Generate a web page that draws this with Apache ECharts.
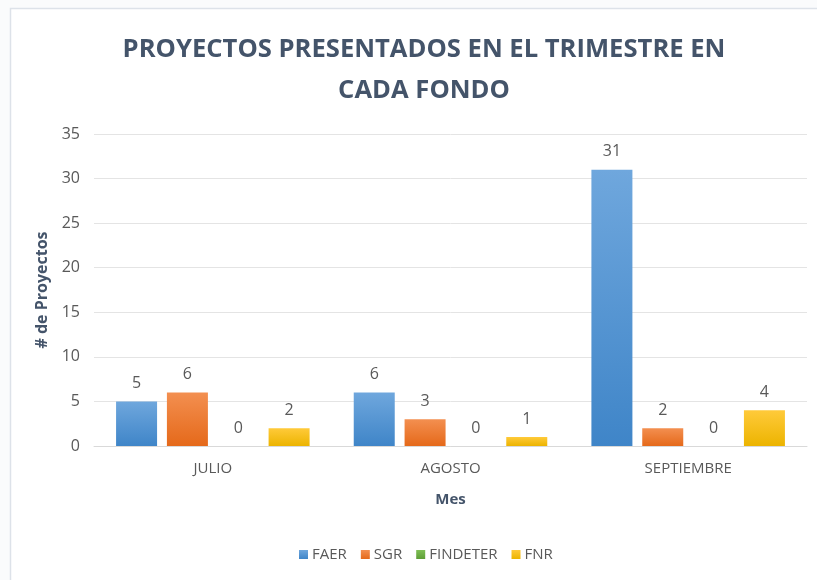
<!DOCTYPE html>
<html>
<head>
    <meta charset="UTF-8">
    <title>Proyectos presentados en el trimestre</title>
    <script src="https://cdn.jsdelivr.net/npm/echarts@6/dist/echarts.min.js"></script>
    <style>
        html, body { margin: 0; padding: 0; background: #fafbfc; }
    </style>
</head>
<body>
<div id="main" style="width: 817px;height:580px;"></div>
<script type="text/javascript">
    // datos del grafico
    const meses = ['JULIO', 'AGOSTO', 'SEPTIEMBRE'];
    const faer = [5, 6, 31];
    const sgr = [6, 3, 2];
    const findeter = [0, 0, 0];
    const fnr = [2, 1, 4];
    const yTicks = [0, 5, 10, 15, 20, 25, 30, 35];

    const txt = '#595959';
    const titleColor = '#44546a';
    const font = 'Open Sans';

    function grad(top, bottom) {
        return new echarts.graphic.LinearGradient(0, 0, 0, 1, [
            {offset: 0, color: top},
            {offset: 1, color: bottom}
        ]);
    }

    function serie(name, data, top, bottom) {
        return {
            name: name,
            type: 'bar',
            data: data,
            barWidth: 41,
            barGap: '24%',
            itemStyle: {color: grad(top, bottom)},
            label: {
                show: true,
                position: 'top',
                distance: 10,
                color: txt,
                fontFamily: font,
                fontSize: 16
            }
        };
    }

    var myChart = echarts.init(document.getElementById('main'));

    let option = {
        animation: false,
        backgroundColor: 'transparent',
        color: ['#5b9bd5', '#ed7d31', '#70ad47', '#ffc000'],
        title: {
            text: 'PROYECTOS PRESENTADOS EN EL TRIMESTRE EN\nCADA FONDO',
            left: 419,
            textAlign: 'center',
            top: 24,
            textStyle: {
                color: titleColor,
                fontFamily: font,
                fontWeight: 'bold',
                fontSize: 25.6,
                lineHeight: 41
            }
        },
        legend: {
            bottom: 13,
            left: 294,
            itemWidth: 9,
            itemHeight: 9,
            itemGap: 14,
            icon: 'rect',
            textStyle: {color: txt, fontFamily: font, fontSize: 15, padding: [0, 0, 0, -1]},
            data: ['FAER', 'SGR', 'FINDETER', 'FNR']
        },
        grid: {
            left: 94,
            right: 10,
            top: 134,
            bottom: 134
        },
        xAxis: {
            type: 'category',
            data: meses,
            name: 'Mes',
            nameLocation: 'middle',
            nameGap: 46,
            nameTextStyle: {color: titleColor, fontFamily: font, fontWeight: 'bold', fontSize: 15},
            axisTick: {show: false},
            axisLine: {lineStyle: {color: '#d9d9d9'}},
            axisLabel: {color: txt, fontFamily: font, fontSize: 15, margin: 15}
        },
        yAxis: {
            type: 'value',
            min: yTicks[0],
            max: yTicks[yTicks.length - 1],
            interval: 5,
            name: '# de Proyectos',
            nameLocation: 'middle',
            nameGap: 41,
            nameTextStyle: {color: titleColor, fontFamily: font, fontWeight: 'bold', fontSize: 16},
            axisLine: {show: false},
            axisTick: {show: false},
            splitLine: {lineStyle: {color: '#e4e4e4'}},
            axisLabel: {color: txt, fontFamily: font, fontSize: 16, margin: 14}
        },
        graphic: [{
            type: 'rect',
            z: -10,
            shape: {x: 10.5, y: 8.5, width: 820, height: 600},
            style: {fill: '#ffffff', stroke: '#dde2e9', lineWidth: 1.5},
            silent: true
        }],
        series: [
            serie('FAER', faer, '#6fa7dd', '#3f85c8'),
            serie('SGR', sgr, '#f38f50', '#e5691a'),
            serie('FINDETER', findeter, '#7fbf55', '#5e9e37'),
            serie('FNR', fnr, '#ffca3a', '#ecb400')
        ]
    };

    myChart.setOption(option);
</script>
</body>
</html>
